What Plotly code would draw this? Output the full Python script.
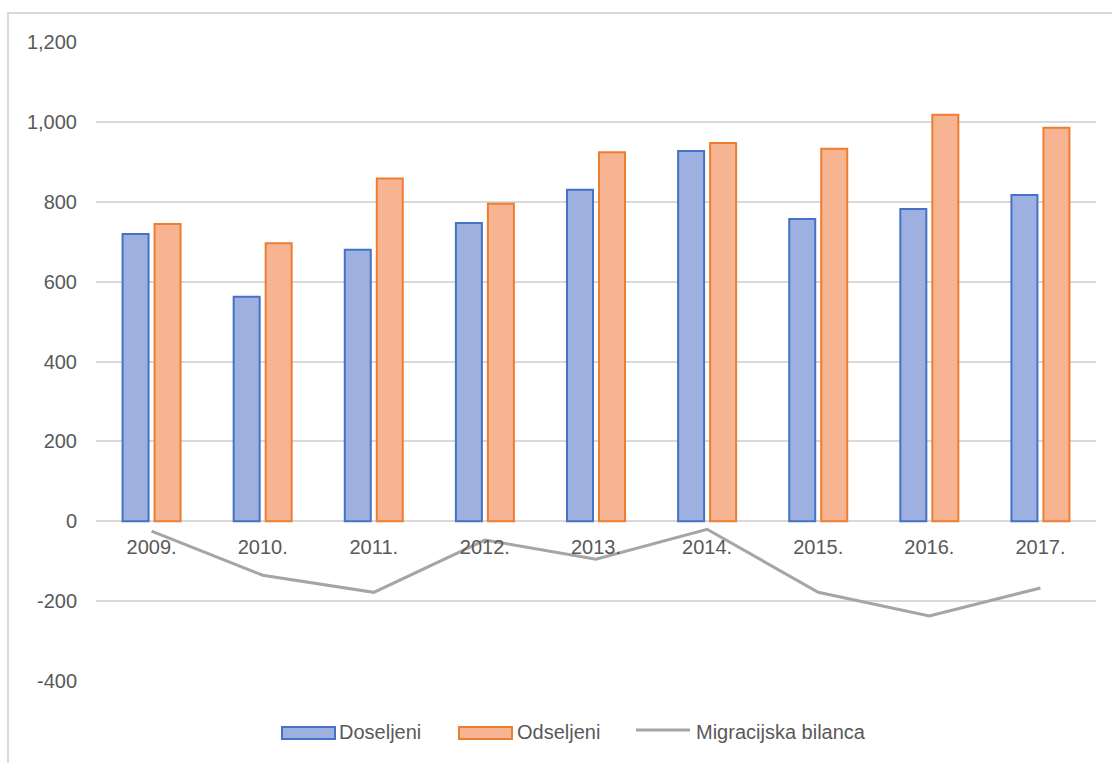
import plotly.graph_objects as go

# Godine i broj doseljenih / odseljenih stanovnika
years = ["2009.", "2010.", "2011.", "2012.", "2013.", "2014.", "2015.", "2016.", "2017."]
doseljeni = [719, 562, 680, 747, 830, 927, 757, 782, 817]
odseljeni = [744, 696, 858, 795, 924, 947, 933, 1018, 985]
bilanca = [-25, -135, -178, -47, -95, -20, -178, -237, -167]

y_ticks = [-400, -200, 0, 200, 400, 600, 800, 1000, 1200]
y_tick_text = ["-400", "-200", "0", "200", "400", "600", "800", "1,000", "1,200"]

FONT = "Liberation Sans, Arial, sans-serif"
FS = 20
TEXT = "#595959"
GRID = "#d9d9d9"
BLUE_FILL, BLUE_LINE = "#9db0df", "#4472c4"
ORANGE_FILL, ORANGE_LINE = "#f7b493", "#ed7d31"
GRAY_LINE = "#a5a5a5"

W, H = 1112, 763
L, R, T, B = 96, 16, 42, 82
PW, PH = W - L - R, H - T - B


def px(x):
    return (x - L) / PW


def py(y):
    return (H - B - y) / PH


fig = go.Figure()
fig.add_trace(go.Bar(
    x=years, y=doseljeni, name="Doseljeni",
    marker=dict(color=BLUE_FILL, line=dict(color=BLUE_LINE, width=2)),
    showlegend=False,
))
fig.add_trace(go.Bar(
    x=years, y=odseljeni, name="Odseljeni",
    marker=dict(color=ORANGE_FILL, line=dict(color=ORANGE_LINE, width=2)),
    showlegend=False,
))
fig.add_trace(go.Scatter(
    x=years, y=bilanca, name="Migracijska bilanca", mode="lines",
    line=dict(color=GRAY_LINE, width=3),
    showlegend=False,
))

shapes = [
    # okvir grafikona
    dict(type="rect", xref="paper", yref="paper",
         x0=px(8), x1=px(W + 20), y0=py(H + 20), y1=py(13),
         line=dict(color=GRID, width=2), fillcolor="rgba(0,0,0,0)", layer="below"),
    # legenda
    dict(type="rect", xref="paper", yref="paper",
         x0=px(282), x1=px(335), y0=py(739), y1=py(727),
         line=dict(color=BLUE_LINE, width=2), fillcolor=BLUE_FILL),
    dict(type="rect", xref="paper", yref="paper",
         x0=px(459), x1=px(512), y0=py(739), y1=py(727),
         line=dict(color=ORANGE_LINE, width=2), fillcolor=ORANGE_FILL),
    dict(type="line", xref="paper", yref="paper",
         x0=px(636), x1=px(690), y0=py(730), y1=py(730),
         line=dict(color=GRAY_LINE, width=3)),
]

annotations = [
    dict(text=t, x=px(x), y=py(732), xref="paper", yref="paper",
         xanchor="left", yanchor="middle", showarrow=False,
         font=dict(family=FONT, size=FS, color=TEXT))
    for t, x in [("Doseljeni", 337), ("Odseljeni", 515), ("Migracijska bilanca", 694)]
]

fig.update_layout(
    width=W, height=H,
    margin=dict(l=L, r=R, t=T, b=B),
    paper_bgcolor="white", plot_bgcolor="white",
    font=dict(family=FONT, size=FS, color=TEXT),
    barmode="group", bargap=0.424, bargroupgap=0.1875,
    shapes=shapes, annotations=annotations,
    xaxis=dict(
        anchor="free", position=0.25,
        showgrid=False, showline=False, zeroline=False, ticks="",
        ticklabelstandoff=12,
        tickfont=dict(family=FONT, size=FS, color=TEXT),
    ),
    yaxis=dict(
        range=[-400, 1200], tickvals=y_ticks, ticktext=y_tick_text,
        showgrid=True, gridcolor=GRID, gridwidth=2,
        zeroline=True, zerolinecolor=GRID, zerolinewidth=2,
        showline=False, ticks="", ticklabelstandoff=18,
        tickfont=dict(family=FONT, size=FS, color=TEXT),
    ),
)

fig.write_html("out.html")
